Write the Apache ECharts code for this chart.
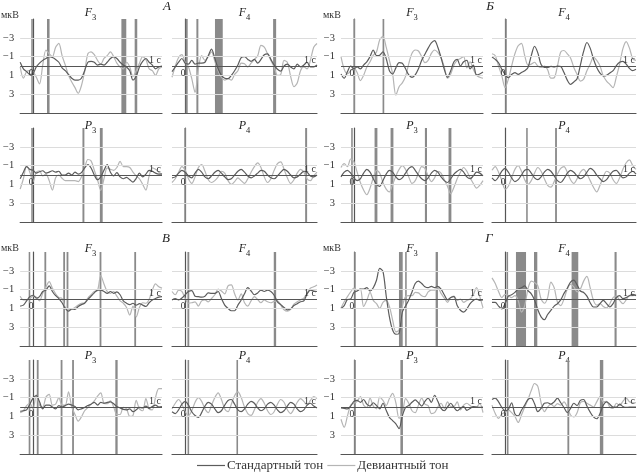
<!DOCTYPE html>
<html><head><meta charset="utf-8">
<script src="https://cdn.jsdelivr.net/npm/echarts@6/dist/echarts.min.js"></script>
<style>html,body{margin:0;padding:0;background:#fff}#c{width:638px;height:473px}</style>
</head><body><div id="c"></div>
<script>
// time samples (s)
const times = [-0.1,-0.075,-0.05,-0.025,0,0.025,0.05,0.075,0.1,0.125,0.15,0.175,0.2,0.225,0.25,0.275,0.3,0.325,0.35,0.375,0.4,0.425,0.45,0.475,0.5,0.525,0.55,0.575,0.6,0.625,0.65,0.675,0.7,0.725,0.75,0.775,0.8,0.825,0.85,0.875,0.9,0.925,0.95,0.975,1.0];
const yTicks = [-3,-1,1,3];
const seriesNames = ['Стандартный тон','Девиантный тон'];
const blockLetters = ['А','Б','В','Г'];
const leadNames = [['F','3'],['F','4'],['P','3'],['P','4']];
const unitLabel = 'мкВ';

// Block А
const A_F3_std = [-0.4,0.3,0.6,0.9,0.8,0.1,-0.3,-0.6,-0.8,-1.0,-0.9,-0.7,-0.4,0.2,0.5,0.9,1.3,1.5,1.5,1.3,0.5,-0.4,-0.5,-0.4,-0.1,-0.2,-0.1,-0.4,-0.8,-1.0,-0.8,-0.4,-0.1,0.1,0.5,1.5,1.1,0.1,-0.5,-0.8,-0.4,-0.1,0.3,0.1,0.0];
const A_F3_dev = [0.1,1.3,0.6,0.5,0.6,1.2,1.9,-0.1,-1.7,-1.3,-1.0,-2.0,-2.4,-1.1,-0.1,1.0,1.7,2.3,2.9,2.1,0.6,-1.3,-1.5,-1.2,-0.6,-0.2,-0.8,-1.1,-1.5,-1.0,-0.3,0.1,0.3,-0.4,0.1,1.1,0.5,-0.3,-1.0,-0.7,0.3,0.5,1.0,0.3,0.1];
const A_F3_sig = [[-0.014,-0.002],[0.108,0.128],[0.685,0.723],[0.788,0.808]];
const A_F4_std = [0.6,0.1,-0.4,-0.8,-0.3,-0.2,-0.6,-0.2,-0.3,-0.3,-0.4,-1.1,-1.8,-0.8,0.3,1.0,1.3,1.35,1.0,0.5,-0.1,-0.9,-1.0,-0.7,-0.5,-0.7,-0.3,-0.7,-1.2,-1.3,-0.7,-0.1,0.35,0.55,0.0,-0.2,0.1,0.3,-0.2,0.1,-0.1,-0.4,0.1,0.1,-0.1];
const A_F4_dev = [1.2,0.0,-0.9,-1.2,-0.4,0.1,1.35,2.8,0.3,-1.1,-0.6,-1.0,-1.5,-0.5,0.5,1.2,1.5,1.35,1.5,0.9,0.5,-0.3,-0.25,0.1,-0.3,-0.7,-1.1,-2.2,-2.0,-1.3,-0.6,0.1,1.0,0.9,-0.6,-0.4,1.1,2.2,1.8,0.5,0.1,0.3,-0.6,-2.0,-2.4];
const A_F4_sig = [[0.004,0.019],[0.085,0.1],[0.226,0.285],[0.667,0.69]];
const A_P3_std = [0.4,-0.3,-0.9,-0.6,-0.5,-0.2,-0.35,-0.45,-0.2,-0.3,-0.45,-0.3,-0.4,0.0,0.0,-0.2,0.0,-0.3,-0.1,-0.25,-0.75,-1.1,-0.75,0.0,0.5,0.2,-0.5,-1.1,-0.3,0.1,-0.25,0.2,0.4,0.25,0.5,0.75,0.35,-0.2,0.2,-0.1,-0.5,-0.4,-0.2,-0.1,-0.1];
const A_P3_dev = [1.5,0.4,-1.0,-0.3,0.7,-0.3,-0.45,0.1,-0.1,0.6,1.6,0.3,0.0,0.35,0.6,0.6,0.6,0.6,0.7,0.2,-0.75,-1.65,-1.5,-0.5,0.5,1.65,0.4,-0.75,-0.6,-0.5,-0.8,-1.45,-0.9,-0.9,-0.8,-0.3,0.1,0.4,1.0,1.6,0.1,-0.75,-0.6,-0.3,-0.1];
const A_P3_sig = [[-0.014,-0.002],[0.383,0.398],[0.518,0.54]];
const A_P4_std = [0.3,0.2,-0.2,-0.5,-0.3,0.1,0.3,-0.2,-0.6,-0.3,0.2,0.4,0.1,-0.3,-0.5,-0.2,0.2,0.5,0.4,0.0,-0.4,-0.6,-0.3,0.1,0.3,0.1,-0.2,-0.5,-0.4,0.0,0.3,0.4,0.1,-0.3,-0.6,-0.4,0.0,0.3,0.2,-0.1,-0.4,-0.3,0.1,0.2,0.0];
const A_P4_dev = [0.8,0.4,-0.3,-0.9,-0.5,0.4,0.9,0.2,-0.8,-1.1,-0.4,0.5,0.8,0.6,0.2,-0.4,-0.2,0.6,1.0,0.7,0.3,0.6,0.9,0.4,-0.3,-0.9,-1.3,-0.8,0.2,0.8,0.4,-0.5,-1.2,-1.4,-0.6,0.3,0.9,0.5,-0.2,-0.6,-0.3,0.4,0.6,0.1,-0.3];
const A_P4_sig = [[-0.007,0.005],[0.91,0.925]];

// Block Б
const B_F3_std = [0.85,1.3,0.6,0.0,0.3,0.1,0.3,-0.1,-0.45,-1.0,-1.7,-1.1,-1.15,-1.5,-0.8,0.5,0.85,0.2,-0.35,-0.3,0.3,0.95,1.2,0.95,0.3,-0.6,-1.25,-1.9,-2.45,-2.7,-2.0,-0.9,0.35,1.2,0.5,-0.45,-0.7,0.0,-0.45,-0.6,0.3,-0.1,0.95,0.85,0.65];
const B_F3_dev = [-1.0,0.35,0.85,0.5,0.2,0.7,1.55,1.0,0.1,-0.45,-1.15,-1.5,-2.8,-3.15,-2.0,-0.6,0.85,3.1,2.2,1.8,1.1,-0.25,-1.35,-1.7,-1.6,-1.0,-0.35,-0.6,-1.35,-1.7,-1.45,-0.9,0.1,1.3,0.85,-0.1,-0.6,-0.8,-1.0,0.2,-0.45,0.35,1.0,1.2,1.3];
const B_F3_sig = [[-0.004,0.009],[0.222,0.235]];
const B_F4_std = [-0.95,-0.7,-0.35,0.35,0.9,1.25,0.9,0.7,0.9,0.7,0.5,0.15,-1.1,-2.1,-1.4,-0.15,0.15,0.15,0.05,0.1,0.0,0.05,0.7,1.5,1.95,1.7,1.35,-0.1,-1.55,-2.5,-1.9,-0.75,0.15,0.75,1.05,1.0,0.75,0.5,-0.05,-0.4,-0.5,-0.2,0.25,0.5,0.35];
const B_F4_dev = [-1.3,-1.1,0.0,1.05,2.3,1.4,0.0,-1.3,-2.15,-2.4,-1.1,-0.1,-0.2,-0.4,0.0,0.15,0.0,0.4,1.3,1.25,0.0,-1.5,-1.65,-1.3,-0.85,0.15,0.9,1.6,1.4,0.5,-0.2,-0.95,-0.6,0.0,1.05,1.6,1.95,2.3,1.15,-0.2,-1.85,-2.6,-1.9,-0.75,-0.6];
const B_F4_sig = [[0.001,0.013]];
const B_P3_std = [0.2,-0.3,-0.5,-0.2,0.3,0.6,0.4,-0.2,-0.6,-0.3,0.4,1.0,1.2,0.6,-0.1,-0.5,-0.3,0.2,0.5,0.3,-0.2,-0.7,-0.9,-0.5,0.0,0.4,0.6,0.3,-0.2,-0.5,-0.3,0.2,0.6,0.8,0.4,-0.1,-0.4,-0.6,-0.3,0.2,0.4,0.1,-0.3,-0.2,0.1];
const B_P3_dev = [-0.8,-1.2,-0.9,-1.7,-1.4,-0.3,0.8,1.6,2.1,1.4,0.3,-0.5,-0.2,0.8,1.5,1.8,1.0,0.1,-0.6,-1.0,-0.6,0.2,0.9,0.6,-0.2,-0.9,-0.7,0.1,0.7,0.3,-0.4,-0.2,0.5,1.2,2.0,1.3,0.4,-0.3,-0.8,-0.4,0.3,0.9,1.4,1.1,0.6];
const B_P3_sig = [[-0.021,-0.009],[0.16,0.182],[0.284,0.306],[0.55,0.566],[0.733,0.755]];
const B_P4_std = [0.3,0.6,0.2,-0.4,-0.7,-0.3,0.3,0.7,0.5,0.0,-0.5,-0.6,-0.2,0.3,0.5,0.2,-0.3,-0.6,-0.4,0.1,0.6,0.8,0.4,-0.2,-0.5,-0.3,0.1,0.4,0.2,-0.3,-0.7,-0.5,0.0,0.4,0.7,0.5,0.0,-0.4,-0.5,-0.1,0.3,0.2,-0.2,-0.4,-0.1];
const B_P4_dev = [-0.5,-0.9,-0.3,0.6,1.5,1.2,0.3,-0.6,-1.0,-0.4,0.5,1.0,0.6,-0.2,-0.8,-0.4,0.4,1.1,1.3,0.7,-0.1,-0.7,-0.9,-0.3,0.5,0.9,0.4,-0.3,-0.6,-0.1,0.6,1.3,1.8,1.1,0.2,-0.4,-0.2,0.5,0.9,0.3,-0.6,-1.3,-1.6,-1.0,-0.6];
const B_P4_sig = [[0.161,0.173],[0.382,0.396]];

// Block В
const V_F3_std = [0.75,0.65,0.2,-0.25,-0.4,-0.1,-0.25,-0.8,-0.95,-1.4,-0.8,-0.35,-0.05,0.4,1.0,1.3,1.05,1.1,0.8,0.6,0.45,0.05,-0.3,-0.65,-0.95,-0.95,-0.8,-0.6,-0.8,-0.6,-0.75,-0.45,0.2,0.45,0.6,0.45,0.65,0.5,0.65,0.8,0.4,0.1,-0.05,-0.2,-0.25];
const V_F3_dev = [-0.3,0.1,0.1,-0.05,-0.3,-0.2,0.2,-0.6,-1.3,-1.85,-1.15,-0.55,-0.15,-0.05,0.9,1.15,1.1,0.9,0.65,0.45,0.4,-0.1,-0.45,-0.8,-0.9,-2.5,-1.6,-0.8,-0.6,-0.8,-0.3,0.2,0.45,0.9,1.7,0.75,1.9,0.9,0.4,0.45,0.05,-0.95,-1.6,-1.3,-1.15];
const V_F3_sig = [[-0.034,-0.022],[0.088,0.102],[0.234,0.248],[0.26,0.274],[0.516,0.53],[0.785,0.799]];
const V_F4_std = [0.1,-0.05,0.1,-0.1,-0.45,-0.8,-0.9,-0.3,-0.25,-0.2,-0.3,-0.65,-0.6,-0.6,-0.8,-0.05,0.65,1.0,1.25,1.25,0.65,0.1,-0.55,-1.2,-0.85,-0.45,-0.65,-0.95,-0.8,-0.95,-0.8,-0.4,0.3,0.6,0.9,1.15,1.05,0.7,0.5,0.3,0.2,-0.55,-0.95,-0.85,-0.8];
const V_F4_dev = [-0.8,-0.45,-0.95,-0.8,-0.05,0.45,0.4,0.3,0.75,0.2,0.1,0.3,-0.05,-0.45,-1.05,-0.85,-0.55,-1.4,-1.5,-0.55,0.1,-0.55,0.4,0.75,0.2,-0.25,0.05,0.4,0.1,0.3,0.4,0.25,0.2,0.65,1.15,1.3,1.1,0.55,0.3,0.1,-0.1,-0.6,-1.15,-1.3,-1.5];
const V_F4_sig = [[0.017,0.031],[0.672,0.69]];
const V_P3_std = [0.45,0.4,0.3,-0.3,-0.95,-1.2,-0.55,0.2,-0.2,-0.2,0.0,0.2,-0.15,0.0,-0.15,-0.3,-0.2,-0.05,0.3,0.2,0.05,-0.15,-0.3,-0.5,-0.2,-0.5,-0.4,-0.5,-0.55,-0.35,-0.05,0.1,0.25,0.3,0.2,0.5,0.3,0.05,0.1,-0.1,0.15,-0.05,-0.2,0.0,-0.05];
const V_P3_dev = [0.6,0.4,-0.15,-0.4,0.2,-1.3,-0.2,0.0,-1.05,-1.35,-0.2,-0.3,-1.0,-0.2,-0.2,-1.6,0.0,0.8,1.5,1.05,0.4,0.05,-0.3,-0.65,-1.15,-1.5,-0.4,-0.35,-0.65,0.0,0.8,0.8,0.05,0.2,1.0,0.9,-0.7,0.2,0.4,-0.9,0.2,0.3,-1.05,-1.95,-1.95];
const V_P3_sig = [[-0.034,-0.021],[0.029,0.043],[0.214,0.228],[0.303,0.317],[0.638,0.656]];
const V_P4_std = [0.5,0.7,0.3,-0.3,-0.6,-0.2,0.5,0.9,1.1,0.6,-0.1,-0.5,-0.3,0.2,0.6,0.4,-0.2,-0.7,-0.8,-0.3,0.3,0.5,0.2,-0.3,-0.6,-0.4,0.1,0.4,0.2,-0.3,-0.5,-0.2,0.3,0.6,0.4,-0.1,-0.5,-0.3,0.2,0.5,0.3,-0.2,-0.4,-0.1,0.1];
const V_P4_dev = [0.2,-0.4,-0.8,-0.3,0.5,0.9,0.4,-0.5,-1.0,-0.6,0.2,0.6,-0.2,-1.0,-1.5,-0.8,0.2,0.5,-0.3,-1.2,-1.6,-1.0,0.0,0.7,0.9,0.3,-0.5,-0.9,-0.4,0.4,0.8,0.5,-0.3,-0.8,-0.5,0.3,0.7,0.2,-0.5,-0.9,-0.6,-0.2,-0.7,-1.1,-0.9];
const V_P4_sig = [[0.018,0.03],[0.389,0.401]];

// Block Г
const G_F3_std = [1.0,0.7,0.05,0.0,-0.7,-0.85,-1.05,-1.05,-1.2,-0.85,-1.2,-2.0,-3.25,-2.95,-0.35,1.9,3.3,3.75,3.65,1.4,0.75,0.1,-0.75,-1.65,-1.9,-1.65,-1.3,-1.2,-1.35,-1.2,-1.35,-1.05,-0.45,0.1,-0.15,-0.25,0.7,1.2,1.4,1.05,0.5,0.15,0.0,0.15,0.1];
const G_F3_dev = [0.95,0.3,-0.25,-0.75,-1.15,-0.95,-1.05,0.8,0.15,-0.7,0.15,0.5,1.0,0.35,0.15,0.8,2.25,3.5,3.3,0.85,-0.25,-0.35,-0.35,-0.7,-0.65,-0.35,-0.25,-0.75,-0.95,-0.95,-1.2,-0.6,-0.1,0.35,-0.15,-0.3,0.15,0.0,0.35,0.15,0.0,-0.45,-1.2,-0.25,0.95];
const G_F3_sig = [[0.002,0.014],[0.349,0.378],[0.397,0.409],[0.633,0.651]];
const G_F4_std = [0.35,0.35,0.75,1.05,0.5,-0.3,-0.45,-0.7,-1.05,-1.2,-1.4,-0.9,-0.55,0.1,1.15,1.9,2.2,1.65,1.2,0.75,0.5,0.1,-0.6,-1.15,-1.8,-2.0,-1.5,-0.85,-0.7,-0.3,0.4,0.85,0.85,0.5,0.15,0.5,0.85,0.5,-0.15,-0.35,-0.05,-0.15,-0.35,-0.5,-0.35];
const G_F4_dev = [-2.25,-1.65,-0.8,-0.15,-0.5,-0.35,-0.15,-0.35,0.15,1.4,0.7,-1.1,-1.9,-1.75,-1.4,0.0,0.45,-0.15,-1.8,-1.2,0.35,0.7,0.0,-1.05,-1.55,-1.3,-0.75,-1.05,-1.9,-2.4,-1.2,0.15,0.65,0.5,0.8,0.95,0.5,-0.15,-0.3,0.15,0.5,0.1,-0.35,-0.35,-0.5];
const G_F4_sig = [[0.011,0.023],[0.083,0.16],[0.221,0.246],[0.508,0.559],[0.836,0.852]];
const G_P3_std = [0.1,0.15,0.2,-0.1,-0.6,-0.7,-0.5,-0.8,-0.3,-0.1,-0.45,-0.15,0.2,-0.4,0.35,1.1,1.45,1.8,2.3,0.95,0.05,-0.15,-0.5,-0.75,-0.45,-0.1,-0.6,-0.95,-0.5,-1.25,-0.6,0.15,0.4,0.0,-0.4,0.05,0.4,0.15,-0.05,0.35,0.15,-0.05,0.0,0.05,0.0];
const G_P3_dev = [1.3,2.15,0.95,-0.2,-0.4,-0.6,-1.1,-0.2,0.05,-0.95,-0.1,0.2,-1.05,-0.7,-0.15,-0.9,-1.45,-0.45,1.2,0.75,-0.9,-0.4,0.4,0.6,-0.2,-0.95,-0.3,-0.15,0.7,0.6,0.0,-0.4,0.15,-0.55,-0.05,-0.05,-0.55,0.3,-0.2,-0.4,-0.15,0.05,0.0,-0.35,0.6];
const G_P3_sig = [[0.002,0.015],[0.36,0.38]];
const G_P4_std = [-0.8,-0.95,-0.55,0.05,0.4,0.25,-0.45,0.75,0.95,0.35,-0.2,-0.8,-0.95,-0.35,0.5,0.15,-0.4,-0.45,-0.3,-0.55,-0.95,-0.45,0.05,0.6,0.15,-0.4,-0.15,-0.7,-0.8,-0.1,0.55,1.05,1.25,0.7,-0.2,-0.55,-0.3,0.0,0.0,-0.3,-0.05,0.05,0.0,0.0,0.0];
const G_P4_dev = [-0.2,0.7,1.2,0.75,0.55,0.3,0.6,1.0,1.65,0.85,0.0,-0.8,-1.75,-2.5,-2.2,-0.45,0.5,0.0,-0.3,-0.05,-0.35,-0.2,-0.55,0.0,0.85,1.05,0.6,-0.45,-0.6,-0.4,-0.2,0.0,-0.55,-1.1,-0.55,-0.6,0.0,0.15,-0.4,-0.15,-0.6,-0.95,-0.55,-0.45,-0.45];
const G_P4_sig = [[0.014,0.026],[0.476,0.49],[0.724,0.75]];

// ---- layout (not data) ----
const colLeft = [19, 172, 341, 492];
const colWidth = [143, 145, 142, 144];
const rowTop = [19, 128, 252, 360];
const rowH = 94;
const FONT = '"Liberation Serif", "DejaVu Serif", serif';
const C_STD = '#5c5c5c', C_DEV = '#b5b5b5', C_AX = '#555', C_GRID = '#dcdcdc', C_SIG = '#8a8a8a';

const blocks = [
  {col:0,row:0,letter:blockLetters[0],lx:167,ly:7, panels:[[A_F3_std,A_F3_dev,A_F3_sig],[A_F4_std,A_F4_dev,A_F4_sig],[A_P3_std,A_P3_dev,A_P3_sig],[A_P4_std,A_P4_dev,A_P4_sig]]},
  {col:2,row:0,letter:blockLetters[1],lx:490,ly:7, panels:[[B_F3_std,B_F3_dev,B_F3_sig],[B_F4_std,B_F4_dev,B_F4_sig],[B_P3_std,B_P3_dev,B_P3_sig],[B_P4_std,B_P4_dev,B_P4_sig]]},
  {col:0,row:2,letter:blockLetters[2],lx:166,ly:239, panels:[[V_F3_std,V_F3_dev,V_F3_sig],[V_F4_std,V_F4_dev,V_F4_sig],[V_P3_std,V_P3_dev,V_P3_sig],[V_P4_std,V_P4_dev,V_P4_sig]]},
  {col:2,row:2,letter:blockLetters[3],lx:489,ly:239, panels:[[G_F3_std,G_F3_dev,G_F3_sig],[G_F4_std,G_F4_dev,G_F4_sig],[G_P3_std,G_P3_dev,G_P3_sig],[G_P4_std,G_P4_dev,G_P4_sig]]}
];
const panelOffsets = [[0,0],[0,1],[1,0],[1,1]]; // [row, col] within block
const titleTop = [7, 120, 243, 350];

const grids=[], xAxes=[], yAxes=[], series=[], graphics=[];
const fmtY = v => v < 0 ? '\u2212' + (-v) : String(v);
let gi = 0;
blocks.forEach(b => {
  graphics.push({type:'text', x:b.lx, y:b.ly, style:{text:b.letter, fontFamily:FONT, fontStyle:'italic', fontSize:13, fill:'#222', align:'center', verticalAlign:'middle'}});
  b.panels.forEach((p, pi) => {
    const r = b.row + panelOffsets[pi][0], c = b.col + panelOffsets[pi][1];
    const showLab = panelOffsets[pi][1] === 0;
    grids.push({left:colLeft[c], top:rowTop[r], width:colWidth[c], height:rowH, containLabel:false});
    xAxes.push({gridIndex:gi, type:'value', min:-0.1, max:1.0, position:'bottom',
      axisLine:{show:true, onZero:false, lineStyle:{color:C_AX, width:1.2}},
      axisTick:{show:false}, axisLabel:{show:false}, splitLine:{show:false}});
    yAxes.push({gridIndex:gi, type:'value', min:-5, max:5, inverse:true,
      axisLine:{show:true, lineStyle:{color:C_AX, width:1.2}},
      axisTick:{show:true, inside:true, length:4, customValues:yTicks, lineStyle:{color:C_AX}},
      axisLabel:{show:showLab, customValues:yTicks, formatter:fmtY, fontFamily:FONT, fontSize:10.5, color:'#333', margin:6},
      splitLine:{show:false}});
    // grid lines + zero line
    series.push({type:'line', xAxisIndex:gi, yAxisIndex:gi, data:[], silent:true, z:1, animation:false,
      markLine:{silent:true, symbol:['none','none'], animation:false, label:{show:false},
        data: yTicks.map(v => ({yAxis:v, lineStyle:{color:C_GRID, width:1, type:'solid'}}))
          .concat([{yAxis:0, lineStyle:{color:C_AX, width:1.2, type:'solid'},
            label:{show:true, position:'insideEndTop', formatter:'1 с', distance:[1,1], fontFamily:FONT, fontSize:10, color:'#333'}}])},
      markPoint:{silent:true, symbol:'circle', symbolSize:1, itemStyle:{color:'rgba(0,0,0,0)'}, animation:false,
        data:[{coord:[0,0], label:{show:true, formatter:'0', offset:[-2,7], fontFamily:FONT, fontSize:9.5, color:'#333'}}]}
    });
    series.push({name:seriesNames[1], type:'line', xAxisIndex:gi, yAxisIndex:gi, z:2, animation:false,
      symbol:'none', smooth:0.3, lineStyle:{color:C_DEV, width:1.2}, itemStyle:{color:C_DEV},
      data:p[1].map((v,j)=>[times[j], v])});
    series.push({name:seriesNames[0], type:'line', xAxisIndex:gi, yAxisIndex:gi, z:3, animation:false,
      symbol:'none', smooth:0.3, lineStyle:{color:C_STD, width:1.2}, itemStyle:{color:C_STD},
      data:p[0].map((v,j)=>[times[j], v])});
    series.push({type:'line', xAxisIndex:gi, yAxisIndex:gi, data:[], silent:true, z:4, animation:false,
      markArea:{silent:true, animation:false, itemStyle:{color:C_SIG, opacity:1},
        data:p[2].map(s => [{xAxis:s[0]}, {xAxis:s[1]}])}});
    // panel title
    const cx = colLeft[c] + colWidth[c]/2;
    graphics.push({type:'text', x:cx, y:titleTop[r], style:{
      text:'{a|' + leadNames[pi][0] + '}{b|' + leadNames[pi][1] + '}', align:'center', verticalAlign:'top',
      rich:{a:{fontFamily:FONT, fontStyle:'italic', fontSize:12, fill:'#222', verticalAlign:'top', padding:[0,0,3,0]},
            b:{fontFamily:FONT, fontSize:8.5, fill:'#222', verticalAlign:'bottom'}}}});
    if (pi === 0) {
      graphics.push({type:'text', x:colLeft[c]-18, y:rowTop[r]-4, style:{text:unitLabel, fontFamily:FONT, fontSize:10, fill:'#333', align:'left', verticalAlign:'middle'}});
    }
    gi++;
  });
});

const chart = echarts.init(document.getElementById('c'), null, {renderer:'canvas'});
chart.setOption({
  animation:false,
  backgroundColor:'#fff',
  grid:grids, xAxis:xAxes, yAxis:yAxes, series:series,
  graphic:{elements:graphics},
  legend:{data:[{name:seriesNames[0], itemStyle:{color:C_STD}},{name:seriesNames[1], itemStyle:{color:C_DEV}}],
    left:197, top:459, padding:0, icon:'rect', itemWidth:28, itemHeight:1.2, itemGap:4,
    selectedMode:false, textStyle:{fontFamily:FONT, fontSize:13, color:'#333', padding:[0,0,0,-3]}}
});
</script></body></html>
